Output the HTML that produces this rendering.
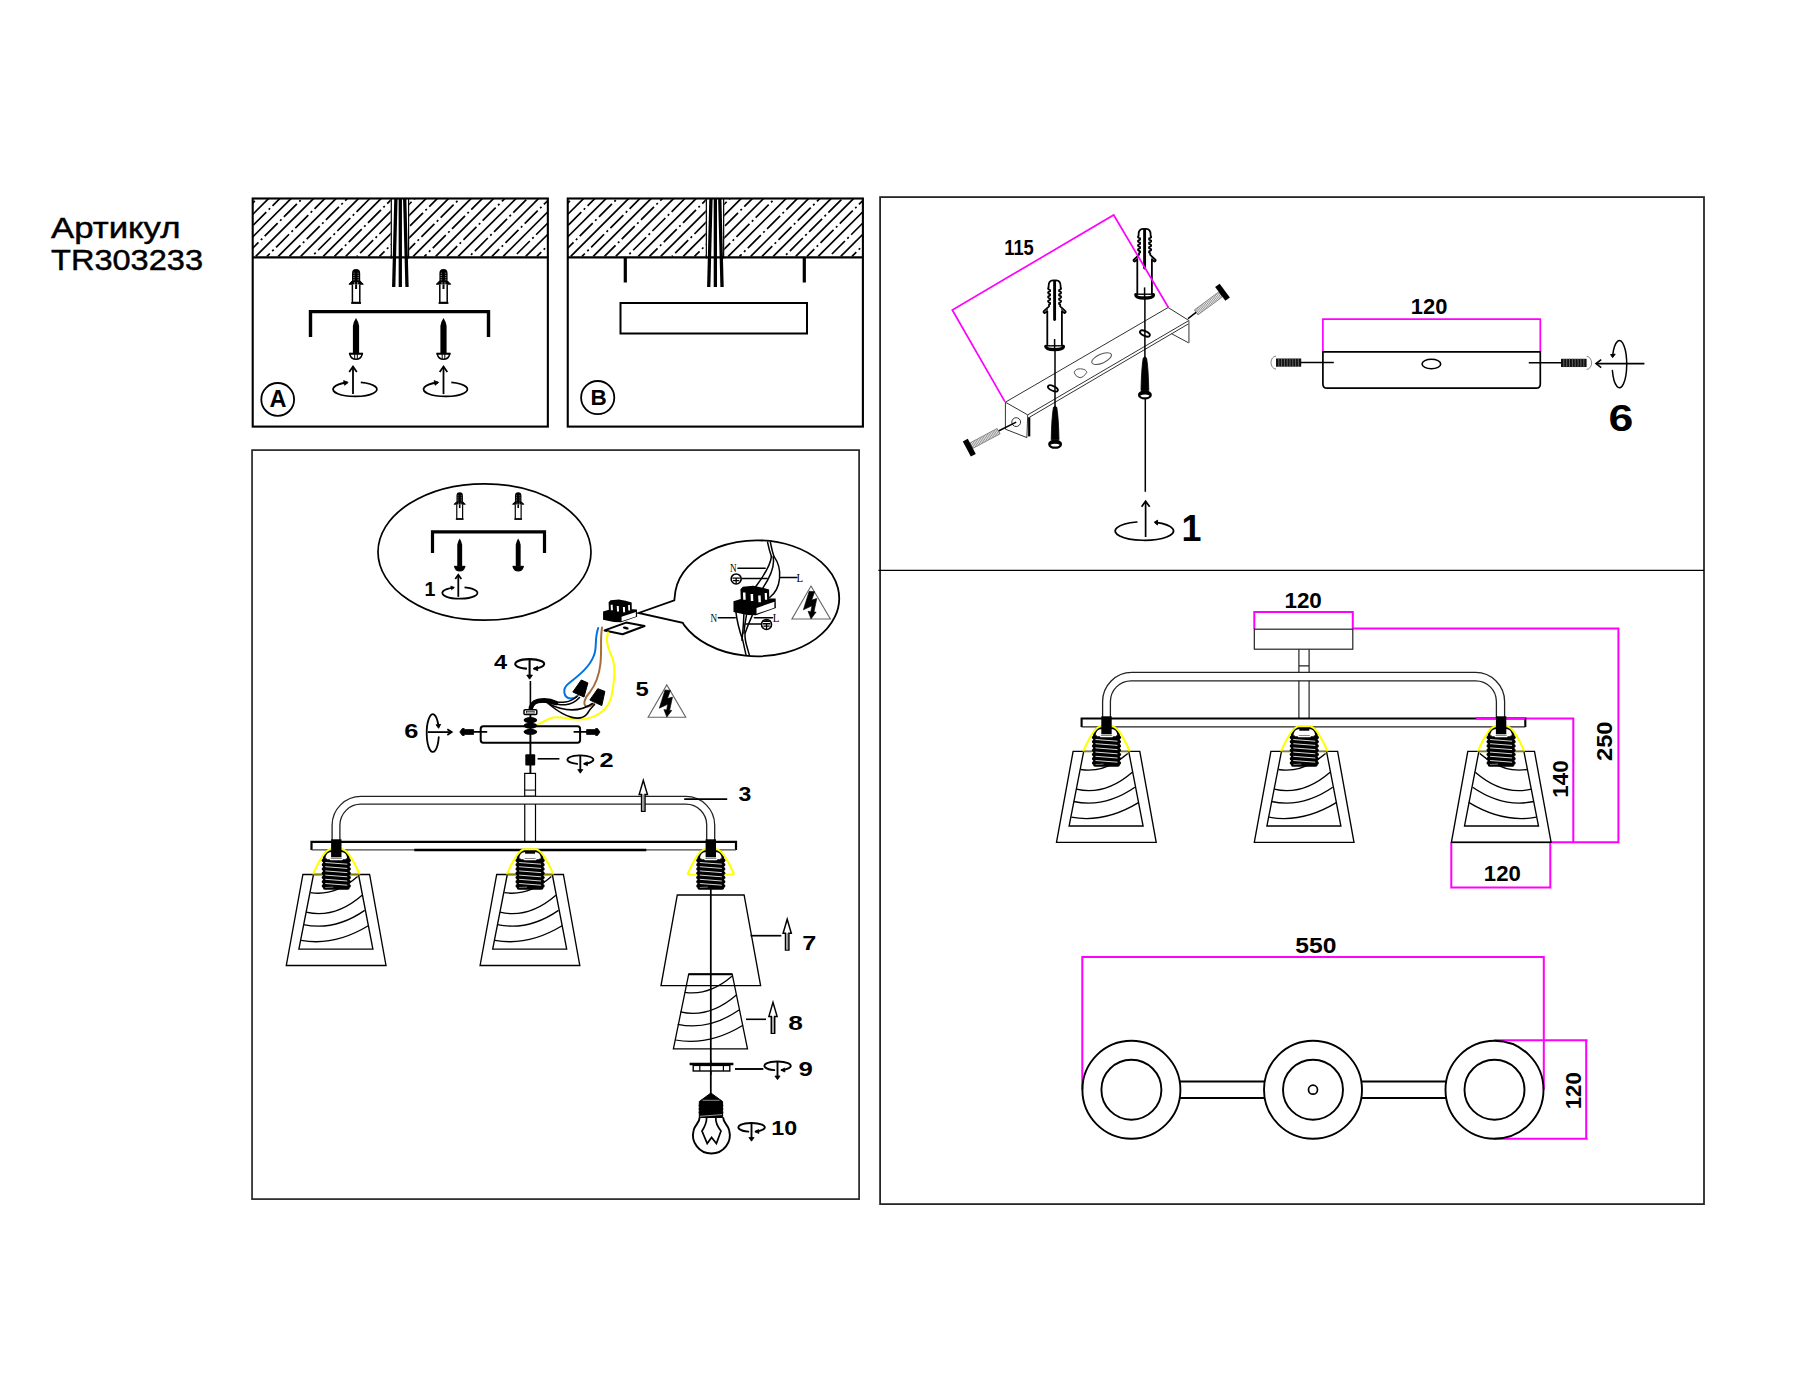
<!DOCTYPE html>
<html><head><meta charset="utf-8"><title>TR303233</title>
<style>html,body{margin:0;padding:0;background:#fff;}body{width:1800px;height:1400px;overflow:hidden;font-family:"Liberation Sans",sans-serif;}svg{display:block;}</style></head>
<body>
<svg width="1800" height="1400" viewBox="0 0 1800 1400" font-family="Liberation Sans, sans-serif" fill="#000">
<defs>
<g id="plugS">
  <path d="M-4.1,16 L-4.1,4.4 Q-4.1,0 0,0 Q4.1,0 4.1,4.4 L4.1,16 Z" fill="#000"/>
  <path d="M-2.6,4.2 L-1.4,4.2 M1.4,4.2 L2.6,4.2 M-2.9,6.4 L-1.4,6.4 M1.4,6.4 L2.9,6.4 M-2.9,8.6 L-1.4,8.6 M1.4,8.6 L2.9,8.6 M-2.9,10.8 L-1.4,10.8 M1.4,10.8 L2.9,10.8" stroke="#999" stroke-width="0.8" fill="none"/>
  <path d="M-1.5,13 L-1.5,16 M1.5,13 L1.5,16" stroke="#999" stroke-width="0.8" fill="none"/>
  <path d="M-4,12 L-7.2,15.2 L-4,15.2 Z M4,12 L7.2,15.2 L4,15.2 Z" fill="#000" stroke="#000" stroke-width="1"/>
  <path d="M-3.7,15.4 L-3.7,33.5 L3.7,33.5 L3.7,15.4" fill="#fff" stroke="#000" stroke-width="1.5"/>
  <path d="M-1,15.4 L-1,20 L1,20 L1,15.4 Z" fill="#000"/>
  <path d="M-4.9,34 L4.9,34" stroke="#000" stroke-width="1.8"/>
</g>
<g id="screwS">
  <path d="M0,0 Q2.2,3 3.1,8 L3.1,35.5 L-3.1,35.5 L-3.1,8 Q-2.2,3 0,0 Z" fill="#000"/>
  <path d="M-7,35.6 L7,35.6" stroke="#000" stroke-width="1.8"/>
  <path d="M-6.3,36 Q-5,41.3 0,41.3 Q5,41.3 6.3,36 Z" fill="#fff" stroke="#000" stroke-width="1.4"/>
  <path d="M-1.3,36 L-1.3,41 M1.3,36 L1.3,41" stroke="#000" stroke-width="1"/>
</g>
<g id="rotUp">
  <path d="M0,27.8 L0,0.6" stroke="#000" stroke-width="1.8" fill="none" vector-effect="non-scaling-stroke"/>
  <path d="M-3.8,5.6 L0,0.3 L3.8,5.6" stroke="#000" stroke-width="1.8" fill="none" vector-effect="non-scaling-stroke" stroke-linejoin="miter"/>
  <path d="M6.5,16 A22,7.2 0 1 1 -7,16.2" stroke="#000" stroke-width="1.8" fill="none" vector-effect="non-scaling-stroke" transform="translate(1.3,0)"/>
  <path d="M-9.4,14.3 L-4.8,16.1 L-8.4,19 Z" fill="#000" stroke="#000" stroke-width="0.8" stroke-linejoin="round"/>
</g>

<g id="socket"><path d="M-12.2,11 L-12.2,9 C-12,4 -9.5,0.7 -4.7,0.7 L4.7,0.7 C9.5,0.7 12,4 12.2,9 L12.2,11 Z" fill="#fff" stroke="#000" stroke-width="2.6" stroke-linejoin="round"/><path d="M-23.3,24.6 C-19.7,16.3 -12,0.6 -6,-0.6 L6,-0.6 C12,0.6 19.7,16.3 23.3,24.6" fill="none" stroke="#ffff00" stroke-width="2.1"/><rect x="-13.4" y="8.6" width="26.8" height="31.2" rx="2" fill="#000"/><rect x="-14.6" y="8.80" width="29.2" height="3.4" rx="1.7" fill="#000"/><rect x="-14.6" y="13.05" width="29.2" height="3.4" rx="1.7" fill="#000"/><rect x="-14.6" y="17.30" width="29.2" height="3.4" rx="1.7" fill="#000"/><rect x="-14.6" y="21.55" width="29.2" height="3.4" rx="1.7" fill="#000"/><rect x="-14.6" y="25.80" width="29.2" height="3.4" rx="1.7" fill="#000"/><rect x="-14.6" y="30.05" width="29.2" height="3.4" rx="1.7" fill="#000"/><rect x="-14.6" y="34.30" width="29.2" height="3.4" rx="1.7" fill="#000"/><path d="M-11,12.60 L11,14.30" stroke="#d8d8d8" stroke-width="1.0" fill="none"/><path d="M-11,16.80 L11,18.50" stroke="#d8d8d8" stroke-width="1.0" fill="none"/><path d="M-11,21.00 L11,22.70" stroke="#d8d8d8" stroke-width="1.0" fill="none"/><path d="M-11,25.20 L11,26.90" stroke="#d8d8d8" stroke-width="1.0" fill="none"/><path d="M-11,29.40 L11,31.10" stroke="#d8d8d8" stroke-width="1.0" fill="none"/><path d="M-11,33.60 L11,35.30" stroke="#d8d8d8" stroke-width="1.0" fill="none"/><path d="M-11,37.6 L-3,37.2" stroke="#888" stroke-width="0.9" fill="none"/><path d="M-9.5,8.6 L-6.5,8.6 L-5.5,9.6 L5.5,9.6 L6.5,8.6 L9.5,8.6" stroke="#fff" stroke-width="1.6" fill="none"/></g><g id="sockBlock"><rect x="-5.2" y="-10.6" width="10.4" height="18" fill="#000"/></g><g id="sockFlat"><rect x="-5" y="1.4" width="10" height="2.4" fill="#000"/></g>
<g id="shade" fill="none" stroke="#000" stroke-width="1.35" stroke-linejoin="miter"><path d="M-33.4,0 L33.3,0 L49.7,91 L-50,91 Z"/><path d="M-22.8,0 L-37.4,74.6 L36.6,74.6 L22.2,0"/><path d="M-25.8,18.1 Q-1.4,21.9 21.3,2.1"/><path d="M-30.2,37.7 Q-1.4,44.4 25.8,20.8"/><path d="M-32.9,50.1 Q-1.4,56.6 28.4,35.9"/><path d="M-35.2,65.8 Q-2.2,72 32.4,51"/></g>

<g id="rotDown">
  <path d="M-3.2,4.3 A13.2,4.4 0 1 1 4.4,4.2" fill="none" stroke="#000" stroke-width="1.9" stroke-linecap="round"/>
  <path d="M3.3,4.4 L7.2,2.2 L7.4,6.2 Z" fill="#000" stroke="#000" stroke-width="0.8" stroke-linejoin="round"/>
  <path d="M0,-4.4 L0,11" stroke="#000" stroke-width="1.9" fill="none"/>
  <path d="M-2.6,10.2 L2.6,10.2 L0,13.9 Z" fill="#000" stroke="#000" stroke-width="0.8" stroke-linejoin="round"/>
</g>
<g id="hollowUp">
  <path d="M0,2 L4.1,16 L1.7,16 L1.7,32.9 L-1.7,32.9 L-1.7,16 L-4.1,16 Z" fill="#fff" stroke="#000" stroke-width="1.5" stroke-linejoin="miter"/><path d="M0,16 L0,32.5" stroke="#999" stroke-width="1.7"/>
</g>
<g id="bolt">
  <path d="M0,0 L1.2,1.3 L0,2.6 L-1.2,1.3 Z" fill="#000" transform="translate(0,0) scale(4.4,1.35) translate(0,-1.3)"/>
</g>
<g id="warn">
  <path d="M0,-21.7 L19,10.6 L-18.7,10.6 Z" fill="#fff" stroke="#666" stroke-width="1.1" stroke-linejoin="miter"/>
  <path d="M-1.8,-16.6 L3.6,-16.2 L0.7,-8 L5.7,-9.5 L2.85,3.8 L5,3.8 L0,10.5 L-2.9,3 L-0.2,3.4 L0.9,-2.3 L-7.5,1.6 Z" fill="#000" stroke="#000" stroke-width="0.6" stroke-linejoin="round"/>
</g>

<g id="plugL"><path d="M0,0.4 L-1.5,0.4 Q-6,0.6 -6,6 L-6,7.6 L-6.4,7.8 Q-6.9,8.8 -5.9,9.4 L-4.5,10.0 L-4.5,11.2 L-6.4,12.1 Q-6.9,13.1 -5.9,13.7 L-4.5,14.3 L-4.5,15.5 L-6.4,16.4 Q-6.9,17.4 -5.9,18.0 L-4.5,18.6 L-4.5,19.8 L-6.4,20.7 Q-6.9,21.7 -5.9,22.3 L-4.5,22.9 L-4.5,24.1 L-5.6,24.8 L-5.6,26.4 L-11,31.4 Q-11.3,32.8 -9.9,33.1 L-7.3,31.2 L-7.3,66" fill="none" stroke="#000" stroke-width="1.8" stroke-linejoin="round"/><path d="M0,0.4 L-1.5,0.4 Q-6,0.6 -6,6 L-6,7.6 L-6.4,7.8 Q-6.9,8.8 -5.9,9.4 L-4.5,10.0 L-4.5,11.2 L-6.4,12.1 Q-6.9,13.1 -5.9,13.7 L-4.5,14.3 L-4.5,15.5 L-6.4,16.4 Q-6.9,17.4 -5.9,18.0 L-4.5,18.6 L-4.5,19.8 L-6.4,20.7 Q-6.9,21.7 -5.9,22.3 L-4.5,22.9 L-4.5,24.1 L-5.6,24.8 L-5.6,26.4 L-11,31.4 Q-11.3,32.8 -9.9,33.1 L-7.3,31.2 L-7.3,66" fill="none" stroke="#000" stroke-width="1.8" stroke-linejoin="round" transform="scale(-1,1)"/><path d="M-8.2,30.6 L-6.6,29.4 M8.2,30.6 L6.6,29.4" stroke="#000" stroke-width="1" fill="none"/><path d="M0,1.4 L0,39.6" stroke="#000" stroke-width="2.9" stroke-linecap="round"/><path d="M0,59 L0,70" stroke="#000" stroke-width="1.5"/><path d="M-8.8,65.8 L8.8,65.8" stroke="#000" stroke-width="1.4"/><path d="M-8.8,66.3 Q-8.8,69.6 0,69.6 Q8.8,69.6 8.8,66.3" fill="none" stroke="#000" stroke-width="3.3" stroke-linecap="round"/></g><g id="screwL"><path d="M0,0 L1.7,1.4 Q3.5,12 3.9,33.8 L-3.9,33.8 Q-3.5,12 -1.7,1.4 Z" fill="#000" stroke="#000" stroke-width="0.8" stroke-linejoin="round"/><ellipse cx="0" cy="38.2" rx="5.8" ry="3.5" fill="#fff" stroke="#000" stroke-width="2.3"/><path d="M-6.6,37 Q0,31.5 6.6,37 L5.2,39 Q0,36.6 -5.2,39 Z" fill="#000"/></g></defs>
<clipPath id="clipA"><rect x="252.7" y="198.5" width="295.1499999999999" height="58.89999999999998"/></clipPath><g clip-path="url(#clipA)" stroke="#000" stroke-width="1.7" fill="none"><path d="M165.70,256.4 L235.70,186.39999999999998"/><path d="M176.95,256.4 L246.95,186.39999999999998" stroke-dasharray="18.4 3.4 2 3.4" stroke-dashoffset="5.90"/><path d="M188.20,256.4 L258.20,186.39999999999998"/><path d="M199.45,256.4 L269.45,186.39999999999998" stroke-dasharray="18.4 3.4 2 3.4" stroke-dashoffset="21.60"/><path d="M210.70,256.4 L280.70,186.39999999999998"/><path d="M221.95,256.4 L291.95,186.39999999999998" stroke-dasharray="18.4 3.4 2 3.4" stroke-dashoffset="10.10"/><path d="M233.20,256.4 L303.20,186.39999999999998"/><path d="M244.45,256.4 L314.45,186.39999999999998" stroke-dasharray="18.4 3.4 2 3.4" stroke-dashoffset="25.80"/><path d="M255.70,256.4 L325.70,186.39999999999998"/><path d="M266.95,256.4 L336.95,186.39999999999998" stroke-dasharray="18.4 3.4 2 3.4" stroke-dashoffset="14.30"/><path d="M278.20,256.4 L348.20,186.39999999999998"/><path d="M289.45,256.4 L359.45,186.39999999999998" stroke-dasharray="18.4 3.4 2 3.4" stroke-dashoffset="2.80"/><path d="M300.70,256.4 L370.70,186.39999999999998"/><path d="M311.95,256.4 L381.95,186.39999999999998" stroke-dasharray="18.4 3.4 2 3.4" stroke-dashoffset="18.50"/><path d="M323.20,256.4 L393.20,186.39999999999998"/><path d="M334.45,256.4 L404.45,186.39999999999998" stroke-dasharray="18.4 3.4 2 3.4" stroke-dashoffset="7.00"/><path d="M345.70,256.4 L415.70,186.39999999999998"/><path d="M356.95,256.4 L426.95,186.39999999999998" stroke-dasharray="18.4 3.4 2 3.4" stroke-dashoffset="22.70"/><path d="M368.20,256.4 L438.20,186.39999999999998"/><path d="M379.45,256.4 L449.45,186.39999999999998" stroke-dasharray="18.4 3.4 2 3.4" stroke-dashoffset="11.20"/><path d="M390.70,256.4 L460.70,186.39999999999998"/><path d="M401.95,256.4 L471.95,186.39999999999998" stroke-dasharray="18.4 3.4 2 3.4" stroke-dashoffset="26.90"/><path d="M413.20,256.4 L483.20,186.39999999999998"/><path d="M424.45,256.4 L494.45,186.39999999999998" stroke-dasharray="18.4 3.4 2 3.4" stroke-dashoffset="15.40"/><path d="M435.70,256.4 L505.70,186.39999999999998"/><path d="M446.95,256.4 L516.95,186.39999999999998" stroke-dasharray="18.4 3.4 2 3.4" stroke-dashoffset="3.90"/><path d="M458.20,256.4 L528.20,186.39999999999998"/><path d="M469.45,256.4 L539.45,186.39999999999998" stroke-dasharray="18.4 3.4 2 3.4" stroke-dashoffset="19.60"/><path d="M480.70,256.4 L550.70,186.39999999999998"/><path d="M491.95,256.4 L561.95,186.39999999999998" stroke-dasharray="18.4 3.4 2 3.4" stroke-dashoffset="8.10"/><path d="M503.20,256.4 L573.20,186.39999999999998"/><path d="M514.45,256.4 L584.45,186.39999999999998" stroke-dasharray="18.4 3.4 2 3.4" stroke-dashoffset="23.80"/><path d="M525.70,256.4 L595.70,186.39999999999998"/><path d="M536.95,256.4 L606.95,186.39999999999998" stroke-dasharray="18.4 3.4 2 3.4" stroke-dashoffset="12.30"/><path d="M548.20,256.4 L618.20,186.39999999999998"/><path d="M559.45,256.4 L629.45,186.39999999999998" stroke-dasharray="18.4 3.4 2 3.4" stroke-dashoffset="0.80"/><path d="M570.70,256.4 L640.70,186.39999999999998"/><path d="M581.95,256.4 L651.95,186.39999999999998" stroke-dasharray="18.4 3.4 2 3.4" stroke-dashoffset="16.50"/></g><rect x="390.7" y="198.5" width="18.5" height="59.39999999999998" fill="#fff"/><path d="M391.3,198.5 L391.3,258.4 M408.59999999999997,198.5 L408.59999999999997,258.4" stroke="#000" stroke-width="1.2"/><g stroke="#000" stroke-width="3.3" fill="none"><path d="M395.9,198.5 L393.7,287"/><path d="M400.3,198.5 L400.3,287"/><path d="M404.7,198.5 L407.0,287"/></g><rect x="252.7" y="198.5" width="295.1499999999999" height="228.10000000000002" fill="none" stroke="#000" stroke-width="2.1"/><path d="M252.7,257.4 L547.8499999999999,257.4" stroke="#000" stroke-width="2.1"/>
<clipPath id="clipB"><rect x="567.75" y="198.5" width="295.15" height="58.89999999999998"/></clipPath><g clip-path="url(#clipB)" stroke="#000" stroke-width="1.7" fill="none"><path d="M480.75,256.4 L550.75,186.39999999999998"/><path d="M492.00,256.4 L562.00,186.39999999999998" stroke-dasharray="18.4 3.4 2 3.4" stroke-dashoffset="5.90"/><path d="M503.25,256.4 L573.25,186.39999999999998"/><path d="M514.50,256.4 L584.50,186.39999999999998" stroke-dasharray="18.4 3.4 2 3.4" stroke-dashoffset="21.60"/><path d="M525.75,256.4 L595.75,186.39999999999998"/><path d="M537.00,256.4 L607.00,186.39999999999998" stroke-dasharray="18.4 3.4 2 3.4" stroke-dashoffset="10.10"/><path d="M548.25,256.4 L618.25,186.39999999999998"/><path d="M559.50,256.4 L629.50,186.39999999999998" stroke-dasharray="18.4 3.4 2 3.4" stroke-dashoffset="25.80"/><path d="M570.75,256.4 L640.75,186.39999999999998"/><path d="M582.00,256.4 L652.00,186.39999999999998" stroke-dasharray="18.4 3.4 2 3.4" stroke-dashoffset="14.30"/><path d="M593.25,256.4 L663.25,186.39999999999998"/><path d="M604.50,256.4 L674.50,186.39999999999998" stroke-dasharray="18.4 3.4 2 3.4" stroke-dashoffset="2.80"/><path d="M615.75,256.4 L685.75,186.39999999999998"/><path d="M627.00,256.4 L697.00,186.39999999999998" stroke-dasharray="18.4 3.4 2 3.4" stroke-dashoffset="18.50"/><path d="M638.25,256.4 L708.25,186.39999999999998"/><path d="M649.50,256.4 L719.50,186.39999999999998" stroke-dasharray="18.4 3.4 2 3.4" stroke-dashoffset="7.00"/><path d="M660.75,256.4 L730.75,186.39999999999998"/><path d="M672.00,256.4 L742.00,186.39999999999998" stroke-dasharray="18.4 3.4 2 3.4" stroke-dashoffset="22.70"/><path d="M683.25,256.4 L753.25,186.39999999999998"/><path d="M694.50,256.4 L764.50,186.39999999999998" stroke-dasharray="18.4 3.4 2 3.4" stroke-dashoffset="11.20"/><path d="M705.75,256.4 L775.75,186.39999999999998"/><path d="M717.00,256.4 L787.00,186.39999999999998" stroke-dasharray="18.4 3.4 2 3.4" stroke-dashoffset="26.90"/><path d="M728.25,256.4 L798.25,186.39999999999998"/><path d="M739.50,256.4 L809.50,186.39999999999998" stroke-dasharray="18.4 3.4 2 3.4" stroke-dashoffset="15.40"/><path d="M750.75,256.4 L820.75,186.39999999999998"/><path d="M762.00,256.4 L832.00,186.39999999999998" stroke-dasharray="18.4 3.4 2 3.4" stroke-dashoffset="3.90"/><path d="M773.25,256.4 L843.25,186.39999999999998"/><path d="M784.50,256.4 L854.50,186.39999999999998" stroke-dasharray="18.4 3.4 2 3.4" stroke-dashoffset="19.60"/><path d="M795.75,256.4 L865.75,186.39999999999998"/><path d="M807.00,256.4 L877.00,186.39999999999998" stroke-dasharray="18.4 3.4 2 3.4" stroke-dashoffset="8.10"/><path d="M818.25,256.4 L888.25,186.39999999999998"/><path d="M829.50,256.4 L899.50,186.39999999999998" stroke-dasharray="18.4 3.4 2 3.4" stroke-dashoffset="23.80"/><path d="M840.75,256.4 L910.75,186.39999999999998"/><path d="M852.00,256.4 L922.00,186.39999999999998" stroke-dasharray="18.4 3.4 2 3.4" stroke-dashoffset="12.30"/><path d="M863.25,256.4 L933.25,186.39999999999998"/><path d="M874.50,256.4 L944.50,186.39999999999998" stroke-dasharray="18.4 3.4 2 3.4" stroke-dashoffset="0.80"/><path d="M885.75,256.4 L955.75,186.39999999999998"/><path d="M897.00,256.4 L967.00,186.39999999999998" stroke-dasharray="18.4 3.4 2 3.4" stroke-dashoffset="16.50"/></g><rect x="705.75" y="198.5" width="18.5" height="59.39999999999998" fill="#fff"/><path d="M706.35,198.5 L706.35,258.4 M723.65,198.5 L723.65,258.4" stroke="#000" stroke-width="1.2"/><g stroke="#000" stroke-width="3.3" fill="none"><path d="M710.95,198.5 L708.75,287"/><path d="M715.35,198.5 L715.35,287"/><path d="M719.75,198.5 L722.05,287"/></g><rect x="567.75" y="198.5" width="295.15" height="228.10000000000002" fill="none" stroke="#000" stroke-width="2.1"/><path d="M567.75,257.4 L862.9,257.4" stroke="#000" stroke-width="2.1"/>
<use href="#plugS" x="356.1" y="269"/><use href="#plugS" x="443.5" y="269"/>
<path d="M310.5,337 L310.5,311.6 L488.5,311.6 L488.5,337" fill="none" stroke="#000" stroke-width="3.4"/>
<use href="#screwS" x="356" y="318"/><use href="#screwS" x="443.5" y="318"/>
<use href="#rotUp" x="353" y="366.3"/><use href="#rotUp" x="443.5" y="366.3"/>
<circle cx="277.7" cy="399.4" r="16.4" fill="none" stroke="#000" stroke-width="1.8"/>
<text x="277.9" y="407" font-size="23.5" font-weight="bold" text-anchor="middle" >A</text>
<path d="M625.3,258 L625.3,282.5 M804.3,258 L804.3,282.5" stroke="#000" stroke-width="3.2" fill="none"/>
<rect x="620.5" y="303" width="186.5" height="30.5" fill="none" stroke="#000" stroke-width="2"/>
<circle cx="597.7" cy="397.6" r="16.6" fill="none" stroke="#000" stroke-width="1.8"/>
<text x="598.6" y="405" font-size="22.5" font-weight="bold" text-anchor="middle" >B</text>
<text x="51.0" y="237.8" font-size="28.6" text-anchor="start" textLength="129.5" lengthAdjust="spacingAndGlyphs" stroke="#000" stroke-width="0.45">Артикул</text>
<text x="51.0" y="269.8" font-size="28.6" text-anchor="start" textLength="152" lengthAdjust="spacingAndGlyphs" stroke="#000" stroke-width="0.45">TR303233</text>
<rect x="252.05" y="450.1" width="607.05" height="749" fill="none" stroke="#262626" stroke-width="1.7"/>
<rect x="880.1" y="197.1" width="823.9" height="1007" fill="none" stroke="#262626" stroke-width="1.8"/>
<path d="M878.4,570.4 L1704,570.4" stroke="#000" stroke-width="1.4"/>
<ellipse cx="484.5" cy="552" rx="106.5" ry="68.2" fill="none" stroke="#000" stroke-width="1.7"/>
<use href="#plugS" transform="translate(459.7,492.3) scale(0.79)"/>
<use href="#plugS" transform="translate(518.2,492.3) scale(0.79)"/>
<path d="M432.5,553 L432.5,531.8 L544.5,531.8 L544.5,553" fill="none" stroke="#000" stroke-width="3.2"/>
<use href="#screwS" transform="translate(459.7,538.4) scale(0.79)"/>
<use href="#screwS" transform="translate(518.2,538.4) scale(0.79)"/>
<g transform="translate(459.7,538.4) scale(0.79)"><path d="M-6.3,36 Q-5,41.3 0,41.3 Q5,41.3 6.3,36 Z" fill="#000"/></g>
<g transform="translate(518.2,538.4) scale(0.79)"><path d="M-6.3,36 Q-5,41.3 0,41.3 Q5,41.3 6.3,36 Z" fill="#000"/></g>
<use href="#rotUp" transform="translate(458.3,574.6) scale(0.8)"/>
<text transform="translate(424.43,596.20) scale(0.9600,1)" font-size="20.4" font-weight="bold">1</text>
<polygon points="603.06,611.56 608.89,609.72 608.61,602.22 610.56,600.28 618.89,599.56 625.56,600.83 631.67,602.50 631.78,609.33 636.94,609.44 637.11,616.78 621.11,622.33 613.89,622.11 603.06,619.72" fill="#000"/><polygon points="621.56,616.78 635.89,611.89 635.89,616.44 621.56,621.22" fill="#fff"/><polygon points="610.67,604.72 612.67,604.72 612.89,610.28 610.89,610.28" fill="#fff"/><polygon points="616.78,606.00 618.78,606.00 619.00,611.39 617.00,611.39" fill="#fff"/><polygon points="622.89,607.11 624.89,607.11 625.11,612.33 623.11,612.33" fill="#fff"/><polygon points="628.11,605.11 629.89,605.11 630.11,610.44 628.33,610.44" fill="#fff"/>
<path d="M604.6,630.4 L626.1,622.6 L644.6,626 L622.6,634.2 Z" fill="#fff" stroke="#000" stroke-width="2" stroke-linejoin="round"/>
<ellipse cx="625.8" cy="628.1" rx="3" ry="1.3" fill="#000" transform="rotate(12 625.8 628.1)"/>
<path d="M675.45,591.00 A82.2,58.0 0 1 1 684.13,625.14 L682.8,622.9 L638.6,613 L674.3,600.3 Z" fill="#fff" stroke="#000" stroke-width="1.8" stroke-linejoin="miter"/>
<g fill="none" stroke="#000" stroke-width="1.5" stroke-linecap="round"><path d="M767.59,542.32 Q769.20,550.18 771.43,556.43"/><path d="M770.36,542.14 Q771.88,550.18 773.93,556.43"/><path d="M771.43,556.43 Q770.54,567.14 754.91,587.68"/><path d="M773.04,556.88 Q775.89,568.93 762.50,588.57"/><path d="M773.93,556.43 C783.04,568.93 781.25,588.57 769.64,597.50"/><path d="M737.95,568.21 L765.18,568.21"/><path d="M741.25,578.48 L767.14,578.48"/><path d="M780.62,577.50 L796.88,577.50"/><path d="M718.30,617.86 L735.27,617.86"/><path d="M754.46,617.68 L772.50,617.68"/><path d="M745.71,623.93 L761.61,623.93"/><path d="M735.89,611.79 Q737.50,625.18 742.68,639.91 L745.98,654.91"/><path d="M743.93,613.57 Q743.30,628.75 741.96,640.36"/><path d="M752.23,615.36 Q748.21,624.29 745.09,633.21 Q744.64,637.68 746.43,644.82 L749.29,654.91"/><path d="M746.43,615.36 Q744.64,624.29 743.93,633.21"/></g><circle cx="736.16" cy="578.93" r="5" fill="#fff" stroke="#000" stroke-width="1.6"/><path d="M732.41,578.21 L739.91,578.21 M736.16,578.21 L736.16,583.39 M733.04,580.54 L739.29,580.54" stroke="#000" stroke-width="1.3" fill="none"/><circle cx="766.52" cy="624.46" r="5" fill="#fff" stroke="#000" stroke-width="1.6"/><path d="M762.77,623.75 L770.27,623.75 M766.52,623.75 L766.52,628.93 M763.39,626.07 L769.64,626.07" stroke="#000" stroke-width="1.3" fill="none"/><path d="M762.50,622.05 A5,5 0 0 1 770.54,622.05 Z" fill="#000"/><text x="733.2" y="572.3" font-size="13.5" text-anchor="middle" textLength="6.6" lengthAdjust="spacingAndGlyphs" font-family="Liberation Serif, serif">N</text><text x="799.8" y="581.6" font-size="13.5" text-anchor="middle" textLength="6.6" lengthAdjust="spacingAndGlyphs" font-family="Liberation Serif, serif">L</text><text x="713.8" y="622.1" font-size="13.5" text-anchor="middle" textLength="6.6" lengthAdjust="spacingAndGlyphs" font-family="Liberation Serif, serif">N</text><text x="776.1" y="622.1" font-size="13.5" text-anchor="middle" textLength="6.6" lengthAdjust="spacingAndGlyphs" font-family="Liberation Serif, serif">L</text>
<polygon points="733.48,601.31 740.74,598.94 740.40,589.23 742.82,586.71 753.19,585.78 761.49,587.43 769.10,589.59 769.24,598.44 775.67,598.58 775.88,608.07 755.96,615.27 746.97,614.98 733.48,611.89" fill="#000"/><polygon points="756.51,608.07 774.36,601.74 774.36,607.64 756.51,613.83" fill="#fff"/><polygon points="742.96,592.46 745.45,592.46 745.72,599.66 743.23,599.66" fill="#fff"/><polygon points="750.57,594.12 753.06,594.12 753.33,601.10 750.84,601.10" fill="#fff"/><polygon points="758.17,595.56 760.66,595.56 760.94,602.32 758.45,602.32" fill="#fff"/><polygon points="764.68,592.97 766.89,592.97 767.17,599.87 764.95,599.87" fill="#fff"/>
<use href="#warn" transform="translate(811,608.2) scale(1.02)"/>
<g fill="none" stroke-width="2" stroke-linecap="round">
<path d="M598.2,628 C594,640 597.5,648 593.7,656 C589,668 578,676 568,684 C562,689 563.5,697.5 570.5,698.6 Q575,698.6 578,695.4" stroke="#0072e6"/>
<path d="M602,627.6 C600,640 602,650 600.4,664 C599,676 596,684 590,692 C585,697.5 582.5,704 586,706.3 Q590,707 594,703.5" stroke="#a86c3c"/>
<path d="M608,632.4 C605,642 609,650 612.6,658.5 C615.5,668 615,680 611,698 C607,711 596,717.5 582,719.3 C570,720.5 563,716 553.3,717.6 C547,718.6 543,723 537.5,724.3" stroke="#ffff00"/>
</g>
<polygon points="581.3,680 587.9,682.9 584,697 572.8,692" fill="#000" stroke="#000" stroke-width="1" stroke-linejoin="round"/>
<polygon points="597.8,688.7 604.9,691.4 601.8,705.6 589.8,700" fill="#000" stroke="#000" stroke-width="1" stroke-linejoin="round"/>
<g fill="none" stroke="#000" stroke-linecap="round">
<path d="M530.6,712 Q530,703 538,701 Q548,699 556,703" stroke-width="4.6"/>
<path d="M540,701.5 C556,701 566,706 577,696.5" stroke-width="1.6"/>
<path d="M544,702 C560,705 570,708 579.5,697.5" stroke-width="1.6"/>
<path d="M548,703.5 C565,712 580,712 592.5,703.5" stroke-width="1.6"/>
<path d="M550,705 C566,718 580,722 587,714 Q590,709 594.5,704.5" stroke-width="1.6"/>
</g>
<path d="M530.4,681 L530.4,706" stroke="#000" stroke-width="1.6"/>
<rect x="480.7" y="726.3" width="99.4" height="16.4" rx="2.6" fill="none" stroke="#000" stroke-width="2"/>
<path d="M480.7,731.9 L487.2,731.9 M573.6,731.9 L580.1,731.9" stroke="#000" stroke-width="1.7"/>
<path d="M530.4,714 L530.4,774" stroke="#000" stroke-width="1.9"/>
<rect x="524" y="709.8" width="12.8" height="4.8" rx="1" fill="#fff" stroke="#000" stroke-width="1.5"/>
<rect x="526.6" y="711.4" width="7.6" height="1.6" fill="#fff" stroke="#000" stroke-width="0.6"/>
<ellipse cx="530.4" cy="720.1" rx="6.8" ry="3.0" fill="#000"/>
<ellipse cx="530.4" cy="725.7" rx="6.8" ry="3.0" fill="#000"/>
<ellipse cx="530.4" cy="731.8" rx="6.8" ry="3.0" fill="#000"/>
<path d="M473.5,731.9 L481,731.9 M580,731.9 L587,731.9" stroke="#000" stroke-width="1.7"/>
<path d="M459.8,732 L462.3,728.5 L464.2,728.5 L464.2,729.6 L473.6,729.6 L473.6,734.4 L464.2,734.4 L464.2,735.5 L462.3,735.5 Z" fill="#000" stroke="#000" stroke-width="0.8" stroke-linejoin="round"/>
<path d="M600,732 L597.5,728.5 L595.6,728.5 L595.6,729.6 L586.6,729.6 L586.6,734.4 L595.6,734.4 L595.6,735.5 L597.5,735.5 Z" fill="#000" stroke="#000" stroke-width="0.8" stroke-linejoin="round"/>
<rect x="525.3" y="754.2" width="9.9" height="11.2" rx="1" fill="#000"/>
<path d="M537.6,758.8 L559.4,758.8" stroke="#000" stroke-width="1.6"/>
<rect x="524.7" y="773.4" width="10.8" height="22.8" fill="#fff" stroke="#000" stroke-width="1.2"/>
<path d="M524.7,790.1 L535.5,790.1" stroke="#000" stroke-width="1"/>
<use href="#rotDown" transform="translate(529.6,663.9) scale(1.1,1.1)"/>
<text transform="translate(493.98,669.40) scale(1.1545,1)" font-size="20.4" font-weight="bold">4</text>
<use href="#rotDown" transform="translate(580.3,759.6) scale(0.98)"/>
<text transform="translate(599.58,766.80) scale(1.2404,1)" font-size="20.4" font-weight="bold">2</text>
<text transform="translate(635.42,696.40) scale(1.1673,1)" font-size="20.4" font-weight="bold">5</text>
<use href="#warn" transform="translate(666.8,706.6)"/>
<text transform="translate(404.28,738.20) scale(1.2451,1)" font-size="20.4" font-weight="bold">6</text>
<path d="M438.75,737.2 A6.1,18.9 0 1 1 438.47,726.1" fill="none" stroke="#000" stroke-width="1.8" stroke-linecap="round"/>
<path d="M436.1,724.8 L440.6,724.4 L438.6,728.3 Z" fill="#000" stroke="#000" stroke-width="0.9" stroke-linejoin="round"/>
<path d="M427.8,732.1 L450.6,732.1" stroke="#000" stroke-width="1.8"/>
<path d="M447.3,729.2 L451.7,732.1 L447.3,735" fill="none" stroke="#000" stroke-width="1.8" stroke-linejoin="miter"/>
<path d="M332.1,840 L332.1,825.3 A28.9,28.9 0 0 1 361,796.4 L685.8,796.4 A28.9,28.9 0 0 1 714.7,825.3 L714.7,840 M339.9,840 L339.9,825.3 A21.1,21.1 0 0 1 361,804.2 L685.8,804.2 A20.9,20.9 0 0 1 706.7,825.1 L706.7,840" fill="none" stroke="#222" stroke-width="1.3"/>
<path d="M524.75,804.2 L524.75,841 M535.5,804.2 L535.5,841" stroke="#000" stroke-width="1.2"/>
<rect x="311.5" y="841.9" width="424.5" height="8" fill="#fff" stroke="none"/>
<path d="M311.5,850 L311.5,841.9 L736,841.9 L736,850" fill="none" stroke="#000" stroke-width="2.2" stroke-linejoin="miter"/>
<path d="M311.5,849.9 L736,849.9" stroke="#444" stroke-width="1.4"/>
<path d="M414.3,850 L646.3,850" stroke="#000" stroke-width="2.4"/>
<use href="#hollowUp" x="643.3" y="778.4"/>
<path d="M684.2,799.1 L727.2,799.1" stroke="#000" stroke-width="1.9"/>
<text transform="translate(738.62,800.80) scale(1.1280,1)" font-size="20.4" font-weight="bold">3</text>
<use href="#shade" x="336.3" y="874.5"/>
<use href="#shade" x="530.1" y="874.5"/>
<use href="#socket" x="336.3" y="849.9"/>
<use href="#sockBlock" x="336.3" y="849.9"/>
<path d="M313.0,874.5 L322.3,874.5 M350.3,874.5 L359.6,874.5" stroke="#8a8000" stroke-width="1.5"/>
<use href="#socket" x="530.1" y="849.9"/>
<use href="#sockFlat" x="530.1" y="849.9"/>
<path d="M506.8,874.5 L516.1,874.5 M544.1,874.5 L553.4,874.5" stroke="#8a8000" stroke-width="1.5"/>
<use href="#socket" x="710.8" y="849.9"/>
<use href="#sockBlock" x="710.8" y="849.9"/>
<path d="M687.5,874.5 L696.8,874.5 M724.8,874.5 L734.0999999999999,874.5" stroke="#ffff00" stroke-width="1.6"/>
<path d="M677.3,895 L744.1,895 L760.6,985.6 L661,985.6 Z" fill="none" stroke="#000" stroke-width="1.35"/>
<g fill="none" stroke="#000" stroke-width="1.25"><path d="M688.7,974.2 L732.2,974.2 L747.5,1048.8 L673.4,1048.8 Z" stroke-width="1.3"/><path d="M688.7,974.2 L732.2,974.2" stroke-width="2"/><path d="M684.8,992.3 Q709,996 731.9,976.3"/><path d="M680.4,1011.9 Q709,1018.6 736.4,995"/><path d="M677.7,1024.3 Q709,1030.8 739,1010.1"/><path d="M675.4,1040 Q708.4,1046.2 743,1025.2"/></g>
<path d="M710.8,889 L710.8,1094" stroke="#000" stroke-width="1.75"/>
<path d="M750.5,935.7 L781.3,935.7" stroke="#000" stroke-width="1.7"/>
<use href="#hollowUp" x="787.2" y="917.2"/>
<text transform="translate(802.25,949.80) scale(1.2375,1)" font-size="20.4" font-weight="bold">7</text>
<path d="M746,1019.3 L766,1019.3" stroke="#000" stroke-width="1.6"/>
<use href="#hollowUp" x="773" y="1000.4"/>
<text transform="translate(788.22,1030.49) scale(1.2876,1)" font-size="20.4" font-weight="bold">8</text>
<path d="M689.6,1064 L733.4,1064" stroke="#000" stroke-width="2.6"/>
<rect x="693.2" y="1065.4" width="36.6" height="5.6" fill="#fff" stroke="#000" stroke-width="1.4"/>
<path d="M699.8,1066 L699.8,1071 M723.4,1066 L723.4,1071" stroke="#000" stroke-width="1.2"/>
<path d="M710.8,1060 L710.8,1075" stroke="#000" stroke-width="1.5"/>
<path d="M735,1069 L763.3,1069" stroke="#000" stroke-width="1.9"/>
<use href="#rotDown" transform="translate(777.5,1065.8)"/>
<text transform="translate(798.61,1075.80) scale(1.2639,1)" font-size="20.4" font-weight="bold">9</text>
<path d="M699.7,1117.3 C699.7,1123 694.5,1125 693.6,1130.4 A18.4,18.4 0 1 0 729.2,1130.4 C728.3,1125 723.1,1123 723.1,1117.3" fill="#fff" stroke="#000" stroke-width="1.9"/>
<path d="M699.3,1101.5 L710.9,1093 L722.6,1101.5 L722.6,1117.5 L699.3,1117.5 Z" fill="#000" stroke="#000" stroke-width="1" stroke-linejoin="round"/>
<path d="M702.5,1100.3 L719.5,1100.3" stroke="#999" stroke-width="0.9"/>
<rect x="698.6" y="1104.5" width="24.8" height="2.2" rx="1.1" fill="#000"/>
<rect x="698.6" y="1108" width="24.8" height="2.2" rx="1.1" fill="#000"/>
<rect x="698.6" y="1111.5" width="24.8" height="2.2" rx="1.1" fill="#000"/>
<path d="M700,1116.3 L722,1114.6" stroke="#aaa" stroke-width="0.9"/>
<path d="M706.6,1118 Q706.6,1124 702,1131 L707.2,1143.5 L711.6,1137.5 L716.4,1143.5 L721,1131 Q715.5,1124 715.8,1118" fill="none" stroke="#000" stroke-width="1.7" stroke-linejoin="miter"/>
<use href="#rotDown" transform="translate(751.5,1127.3)"/>
<text transform="translate(771.36,1134.80) scale(1.1422,1)" font-size="20.4" font-weight="bold">10</text>
<g fill="none" stroke="#333" stroke-width="1.0" stroke-linejoin="round">
<path d="M1005.4,402.2 L1168.1,307.5 L1188.9,320.5 L1027.7,414.9 Z" fill="#fff"/>
<path d="M1029.4,417.3 L1188.9,323.6"/>
<path d="M1005.4,402.2 L1005.4,429.2 L1026.9,437.6 L1027.7,414.9"/>
<path d="M1029.2,417.3 L1029.2,436.4" stroke="#000" stroke-width="2.2"/>
<path d="M1171.4,333.6 L1188.7,342.9" />
<path d="M1188.9,320.5 L1188.9,342.9" stroke="#777" stroke-width="1.5"/>
<circle cx="1016.2" cy="422.1" r="4.4"/>
<ellipse cx="1101.6" cy="358.6" rx="10.6" ry="4.5" transform="rotate(-24 1101.6 358.6)" stroke="#555"/>
<path d="M1074.2,372.8 Q1075,368.6 1080.5,368.8 Q1086.6,369.2 1086.8,372.6 Q1083,378 1080,377.8 Q1076,377.2 1074.2,372.8 Z" stroke="#555"/>
</g>
<ellipse cx="1052.9" cy="388.4" rx="5.3" ry="2.3" transform="rotate(24 1052.9 388.4)" fill="#fff" stroke="#000" stroke-width="1.9"/>
<ellipse cx="1144.9" cy="333.5" rx="5.3" ry="2.3" transform="rotate(24 1144.9 333.5)" fill="#fff" stroke="#000" stroke-width="1.9"/>
<path d="M1055,349 L1055,407 M1144.9,297 L1144.9,358 M1145.3,399 L1145.3,491.8" stroke="#000" stroke-width="1.5"/>
<use href="#plugL" x="1054.6" y="280"/><use href="#plugL" x="1144.6" y="228.4"/>
<use href="#screwL" x="1055.1" y="406"/><use href="#screwL" x="1144.9" y="356.7"/>
<path d="M1004.9,401.6 L952.3,310 L1113.7,215 L1168.4,307.5" fill="none" stroke="#ff00ff" stroke-width="1.7" stroke-linejoin="miter"/>
<path d="M1016.2,422.1 L998.5,431 M1188,318.6 L1196.4,312.2" stroke="#000" stroke-width="1.5"/>
<polygon points="997.0,428.5 970.0,442.9 973.0,448.3 1000.0,433.9" fill="#eee" stroke="#555" stroke-width="0.6"/><path d="M997.0,428.5 L1000.0,433.9" stroke="#555" stroke-width="0.6"/><path d="M995.6,429.2 L998.5,434.7" stroke="#555" stroke-width="0.6"/><path d="M994.2,430.0 L997.1,435.5" stroke="#555" stroke-width="0.6"/><path d="M992.8,430.7 L995.7,436.2" stroke="#555" stroke-width="0.6"/><path d="M991.4,431.5 L994.3,437.0" stroke="#555" stroke-width="0.6"/><path d="M989.9,432.3 L992.9,437.7" stroke="#555" stroke-width="0.6"/><path d="M988.5,433.0 L991.4,438.5" stroke="#555" stroke-width="0.6"/><path d="M987.1,433.8 L990.0,439.2" stroke="#555" stroke-width="0.6"/><path d="M985.7,434.5 L988.6,440.0" stroke="#555" stroke-width="0.6"/><path d="M984.3,435.3 L987.2,440.8" stroke="#555" stroke-width="0.6"/><path d="M982.8,436.0 L985.7,441.5" stroke="#555" stroke-width="0.6"/><path d="M981.4,436.8 L984.3,442.3" stroke="#555" stroke-width="0.6"/><path d="M980.0,437.6 L982.9,443.0" stroke="#555" stroke-width="0.6"/><path d="M978.6,438.3 L981.5,443.8" stroke="#555" stroke-width="0.6"/><path d="M977.1,439.1 L980.1,444.5" stroke="#555" stroke-width="0.6"/><path d="M975.7,439.8 L978.6,445.3" stroke="#555" stroke-width="0.6"/><path d="M974.3,440.6 L977.2,446.1" stroke="#555" stroke-width="0.6"/><path d="M972.9,441.3 L975.8,446.8" stroke="#555" stroke-width="0.6"/><path d="M971.5,442.1 L974.4,447.6" stroke="#555" stroke-width="0.6"/><path d="M970.0,442.9 L973.0,448.3" stroke="#555" stroke-width="0.6"/><path d="M965.3,440.1 L973.3,455.3" stroke="#000" stroke-width="5.6" stroke-linecap="butt"/>
<polygon points="1198.1,314.8 1222.4,296.9 1218.8,291.9 1194.5,309.8" fill="#eee" stroke="#555" stroke-width="0.6"/><path d="M1198.1,314.8 L1194.5,309.8" stroke="#555" stroke-width="0.6"/><path d="M1199.4,313.9 L1195.7,308.9" stroke="#555" stroke-width="0.6"/><path d="M1200.7,312.9 L1197.0,307.9" stroke="#555" stroke-width="0.6"/><path d="M1202.0,312.0 L1198.3,307.0" stroke="#555" stroke-width="0.6"/><path d="M1203.3,311.0 L1199.6,306.0" stroke="#555" stroke-width="0.6"/><path d="M1204.5,310.1 L1200.9,305.1" stroke="#555" stroke-width="0.6"/><path d="M1205.8,309.1 L1202.1,304.2" stroke="#555" stroke-width="0.6"/><path d="M1207.1,308.2 L1203.4,303.2" stroke="#555" stroke-width="0.6"/><path d="M1208.4,307.3 L1204.7,302.3" stroke="#555" stroke-width="0.6"/><path d="M1209.6,306.3 L1206.0,301.3" stroke="#555" stroke-width="0.6"/><path d="M1210.9,305.4 L1207.3,300.4" stroke="#555" stroke-width="0.6"/><path d="M1212.2,304.4 L1208.5,299.4" stroke="#555" stroke-width="0.6"/><path d="M1213.5,303.5 L1209.8,298.5" stroke="#555" stroke-width="0.6"/><path d="M1214.8,302.5 L1211.1,297.6" stroke="#555" stroke-width="0.6"/><path d="M1216.0,301.6 L1212.4,296.6" stroke="#555" stroke-width="0.6"/><path d="M1217.3,300.7 L1213.6,295.7" stroke="#555" stroke-width="0.6"/><path d="M1218.6,299.7 L1214.9,294.7" stroke="#555" stroke-width="0.6"/><path d="M1219.9,298.8 L1216.2,293.8" stroke="#555" stroke-width="0.6"/><path d="M1221.2,297.8 L1217.5,292.8" stroke="#555" stroke-width="0.6"/><path d="M1222.4,296.9 L1218.8,291.9" stroke="#555" stroke-width="0.6"/><path d="M1227.6,299.1 L1217.4,285.3" stroke="#000" stroke-width="5.6" stroke-linecap="butt"/>
<text transform="translate(1004.24,254.60) scale(0.8415,1)" font-size="21.8" font-weight="bold">115</text>
<path d="M1145.6,537 L1145.6,501.8" stroke="#000" stroke-width="1.7"/>
<path d="M1141.6,506.8 L1145.6,501.3 L1149.7,506.8" fill="none" stroke="#000" stroke-width="1.7"/>
<path d="M1136.8,522 A29.2,9.3 0 1 0 1155.6,522.4" fill="none" stroke="#000" stroke-width="1.7" stroke-linecap="round"/>
<path d="M1154.3,522.2 L1157.6,520.2 L1157.4,525 Z" fill="#000" stroke="#000" stroke-width="1" stroke-linejoin="round"/>
<text transform="translate(1181.48,541.00) scale(0.9600,1)" font-size="37.4" font-weight="bold">1</text>
<path d="M1322.9,351.8 L1322.9,319.2 L1540.3,319.2 L1540.3,351.8" fill="none" stroke="#ff00ff" stroke-width="1.7"/>
<path d="M1322.9,351.8 L1540.3,351.8 L1540.3,384 Q1540.3,388.2 1536.2,388.2 L1327,388.2 Q1322.9,388.2 1322.9,384 Z" fill="#fff" stroke="#000" stroke-width="1.7"/>
<ellipse cx="1431.4" cy="364" rx="9.3" ry="4.8" fill="none" stroke="#000" stroke-width="1.6"/>
<path d="M1301,362.6 L1333.8,362.6 M1528.8,362.8 L1561,362.8" stroke="#000" stroke-width="1.5"/>
<rect x="1276" y="358.5" width="25.200000000000045" height="8.2" fill="#111"/><path d="M1278.8,358.20000000000005 L1278.8,367.0" stroke="#888" stroke-width="0.7"/><path d="M1281.6,358.20000000000005 L1281.6,367.0" stroke="#888" stroke-width="0.7"/><path d="M1284.4,358.20000000000005 L1284.4,367.0" stroke="#888" stroke-width="0.7"/><path d="M1287.2,358.20000000000005 L1287.2,367.0" stroke="#888" stroke-width="0.7"/><path d="M1290.0,358.20000000000005 L1290.0,367.0" stroke="#888" stroke-width="0.7"/><path d="M1292.8,358.20000000000005 L1292.8,367.0" stroke="#888" stroke-width="0.7"/><path d="M1295.6,358.20000000000005 L1295.6,367.0" stroke="#888" stroke-width="0.7"/><path d="M1298.4,358.20000000000005 L1298.4,367.0" stroke="#888" stroke-width="0.7"/><path d="M1276,356.1 A5,6.5 0 0 0 1276,369.1" fill="none" stroke="#666" stroke-width="0.8"/>
<rect x="1561" y="358.79999999999995" width="25.59999999999991" height="8.2" fill="#111"/><path d="M1563.8,358.5 L1563.8,367.29999999999995" stroke="#888" stroke-width="0.7"/><path d="M1566.7,358.5 L1566.7,367.29999999999995" stroke="#888" stroke-width="0.7"/><path d="M1569.5,358.5 L1569.5,367.29999999999995" stroke="#888" stroke-width="0.7"/><path d="M1572.4,358.5 L1572.4,367.29999999999995" stroke="#888" stroke-width="0.7"/><path d="M1575.2,358.5 L1575.2,367.29999999999995" stroke="#888" stroke-width="0.7"/><path d="M1578.1,358.5 L1578.1,367.29999999999995" stroke="#888" stroke-width="0.7"/><path d="M1580.9,358.5 L1580.9,367.29999999999995" stroke="#888" stroke-width="0.7"/><path d="M1583.8,358.5 L1583.8,367.29999999999995" stroke="#888" stroke-width="0.7"/><path d="M1586.6,356.4 A5,6.5 0 0 1 1586.6,369.4" fill="none" stroke="#666" stroke-width="0.8"/>
<text transform="translate(1410.84,314.00) scale(1.0061,1)" font-size="21.8" font-weight="bold">120</text>
<path d="M1644.4,363.6 L1596.6,363.6" stroke="#000" stroke-width="1.6"/>
<path d="M1601.2,359.6 L1596,363.6 L1601.2,367.6" fill="none" stroke="#000" stroke-width="1.6"/>
<path d="M1612.6,355.8 A7.3,23.6 0 1 1 1612.4,370.6" fill="none" stroke="#000" stroke-width="1.5" stroke-linecap="round"/>
<path d="M1610.6,354.6 L1615.2,354.2 L1612.6,357.6 Z" fill="#000" stroke="#000" stroke-width="1" stroke-linejoin="round"/>
<text transform="translate(1608.54,430.60) scale(1.1945,1)" font-size="37.4" font-weight="bold">6</text>
<path d="M1254.3,629 L1254.3,612 L1352.8,612 L1352.8,629" fill="none" stroke="#ff00ff" stroke-width="2.0"/>
<path d="M1352.8,628.4 L1618.4,628.4 L1618.4,842.2 L1451.3,842.2" fill="none" stroke="#ff00ff" stroke-width="2.0"/>
<path d="M1476,718.4 L1573.3,718.4 L1573.3,842.2" fill="none" stroke="#ff00ff" stroke-width="2.0"/>
<path d="M1451.3,842.2 L1451.3,887.6 L1550.3,887.6 L1550.3,842.2" fill="none" stroke="#ff00ff" stroke-width="2.0"/>
<rect x="1254.3" y="629.2" width="98.5" height="20" fill="#fff" stroke="#222" stroke-width="1.2"/>
<path d="M1298.9,649.2 L1298.9,672.4 M1309.1,649.2 L1309.1,672.4 M1298.9,665.9 L1309.1,665.9 M1298.9,680.8 L1298.9,718 M1309.1,680.8 L1309.1,718" stroke="#222" stroke-width="1.2" fill="none"/>
<path d="M1102.6,717 L1102.6,701.6 A29.2,29.2 0 0 1 1131.8,672.4 L1475.4,672.4 A29.2,29.2 0 0 1 1504.6,701.6 L1504.6,717 M1110.4,717 L1110.4,701.6 A20.8,20.8 0 0 1 1131.2,680.8 L1475.6,680.8 A20.8,20.8 0 0 1 1496.4,701.6 L1496.4,717" fill="none" stroke="#222" stroke-width="1.3"/>
<rect x="1081.6" y="718.5" width="443.7" height="8.4" fill="#fff"/>
<path d="M1081.6,727 L1081.6,718.5 L1525.3,718.5 L1525.3,727" fill="none" stroke="#000" stroke-width="2.1"/>
<path d="M1081.6,726.9 L1525.3,726.9" stroke="#222" stroke-width="1.3"/>
<path d="M1476,718.4 L1525.3,718.4" stroke="#ff00ff" stroke-width="2.0"/>
<use href="#shade" x="1106.5" y="751.4"/>
<use href="#socket" x="1106.5" y="726.9"/>
<use href="#sockBlock" x="1106.5" y="726.9"/>
<path d="M1083.2,751.5 L1092.5,751.5 M1120.5,751.5 L1129.8,751.5" stroke="#8a8000" stroke-width="1.5"/>
<use href="#shade" x="1304.3" y="751.4"/>
<use href="#socket" x="1304.3" y="726.9"/>
<use href="#sockFlat" x="1304.3" y="726.9"/>
<path d="M1281.0,751.5 L1290.3,751.5 M1318.3,751.5 L1327.6,751.5" stroke="#8a8000" stroke-width="1.5"/>
<use href="#shade" transform="translate(1501.1,751.4) scale(-1,1)"/>
<use href="#socket" x="1501.1" y="726.9"/>
<use href="#sockBlock" x="1501.1" y="726.9"/>
<path d="M1477.8,751.5 L1487.1,751.5 M1515.1,751.5 L1524.3999999999999,751.5" stroke="#8a8000" stroke-width="1.5"/>
<text transform="translate(1284.39,608.20) scale(1.0306,1)" font-size="21.8" font-weight="bold">120</text>
<text transform="translate(1483.87,881.40) scale(1.0153,1)" font-size="21.8" font-weight="bold">120</text>
<text transform="translate(1567.90,797.74) rotate(-90) scale(1.0290,1)" font-size="21.8" font-weight="bold">140</text>
<text transform="translate(1612.34,760.92) rotate(-90) scale(1.0830,1)" font-size="21.8" font-weight="bold">250</text>
<path d="M1082.3,1089.7 L1082.3,957 L1543.8,957 L1543.8,1089.7" fill="none" stroke="#ff00ff" stroke-width="2.0"/>
<path d="M1494.4,1040.3 L1587.6,1040.3 M1586.2,1040.3 L1586.2,1138.8 M1587.6,1138.8 L1494.4,1138.8" fill="none" stroke="#ff00ff" stroke-width="2.0"/>
<path d="M1180,1081.5 L1264.5,1081.5 M1180,1098 L1264.5,1098 M1361.5,1081.5 L1446,1081.5 M1361.5,1098 L1446,1098" stroke="#000" stroke-width="1.9"/>
<circle cx="1131.4" cy="1089.7" r="49.0" fill="none" stroke="#000" stroke-width="1.9"/>
<circle cx="1131.4" cy="1089.7" r="30.0" fill="none" stroke="#000" stroke-width="1.9"/>
<circle cx="1313.0" cy="1089.7" r="49.0" fill="none" stroke="#000" stroke-width="1.9"/>
<circle cx="1313.0" cy="1089.7" r="30.0" fill="none" stroke="#000" stroke-width="1.9"/>
<circle cx="1494.5" cy="1089.7" r="49.0" fill="none" stroke="#000" stroke-width="1.9"/>
<circle cx="1494.5" cy="1089.7" r="30.0" fill="none" stroke="#000" stroke-width="1.9"/>
<circle cx="1313" cy="1089.7" r="4.5" fill="none" stroke="#000" stroke-width="1.7"/>
<text transform="translate(1295.33,952.80) scale(1.1312,1)" font-size="21.8" font-weight="bold">550</text>
<text transform="translate(1581.38,1109.22) rotate(-90) scale(1.0159,1)" font-size="21.8" font-weight="bold">120</text>
</svg>
</body></html>
